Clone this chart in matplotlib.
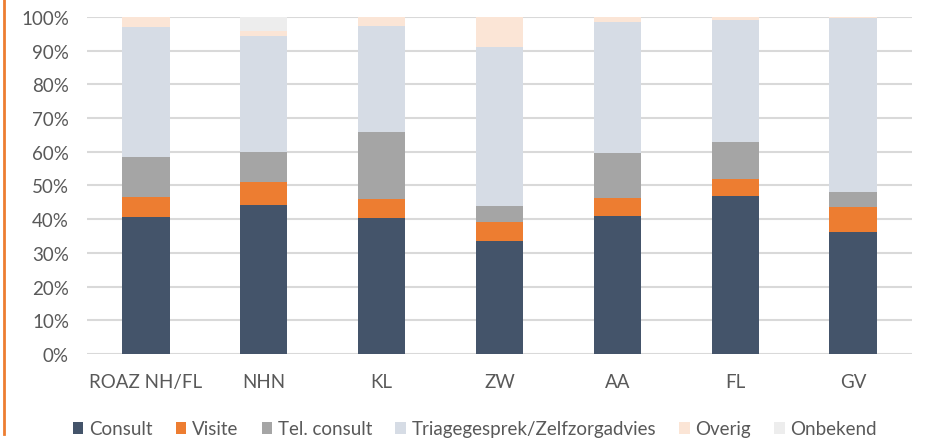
import matplotlib.pyplot as plt
from matplotlib.lines import Line2D
import numpy as np

regions = ['ROAZ NH/FL', 'NHN', 'KL', 'ZW', 'AA', 'FL', 'GV']
consult = [40.6, 44.2, 40.2, 33.5, 40.9, 46.9, 36.1]
visite = [6.0, 6.8, 5.7, 5.7, 5.3, 5.0, 7.5]
tel_consult = [11.7, 9.0, 20.0, 4.7, 13.3, 11.0, 4.3]
triage = [38.7, 34.4, 31.4, 47.1, 39.1, 36.1, 51.8]
overig = [3.0, 1.5, 2.7, 9.0, 1.2, 0.8, 0.2]
onbekend = [0.0, 4.1, 0.0, 0.0, 0.2, 0.2, 0.1]

series = [('Consult', consult, '#44546A'),
          ('Visite', visite, '#ED7D31'),
          ('Tel. consult', tel_consult, '#A5A5A5'),
          ('Triagegesprek/Zelfzorgadvies', triage, '#D6DCE5'),
          ('Overig', overig, '#FBE5D6'),
          ('Onbekend', onbekend, '#EDEDED')]

plt.rcParams['font.family'] = ['Lato', 'DejaVu Sans']

fig = plt.figure(figsize=(9.33, 4.39), dpi=100)
ax = fig.add_axes([87/933, 1-355/439, 825/933, (355-17.8)/439])

x = np.arange(len(regions))
bottom = np.zeros(len(regions))
for name, vals, col in series:
	vals = np.array(vals)
	ax.bar(x, vals, bottom=bottom, width=0.4, color=col, label=name, zorder=3)
	bottom += vals

ax.set_xlim(-0.5, len(regions) - 0.5)
ax.set_ylim(0, 100)
ax.set_yticks(np.arange(0, 101, 10))
ax.set_yticklabels([f'{v}%' for v in range(0, 101, 10)])
ax.set_xticks(x)
ax.set_xticklabels(regions)
ax.tick_params(length=0, labelsize=13.5, colors='#595959')
ax.tick_params(axis='y', pad=13)
ax.tick_params(axis='x', pad=14)
ax.grid(axis='y', color='#D9D9D9', linewidth=1.5, zorder=0)
for s in ax.spines.values():
	s.set_visible(False)

fig.legend(loc='center', bbox_to_anchor=(475/933, 1-430/439), ncol=6, frameon=False,
	fontsize=13.5, handlelength=0.55, handleheight=0.65, handletextpad=0.3,
	columnspacing=1.25, labelcolor='#595959', borderpad=0)

fig.add_artist(Line2D([4/933, 4/933], [0.01, 1], color='#ED7D31', linewidth=2))

plt.savefig('out.png')
